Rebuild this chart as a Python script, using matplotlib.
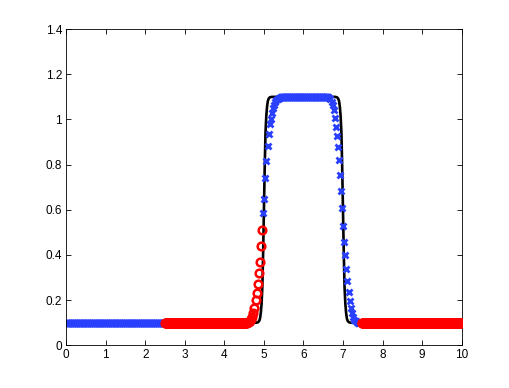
import numpy as np
import matplotlib
matplotlib.use('Agg')
import matplotlib.pyplot as plt

plt.rcParams['font.family'] = ['Liberation Sans', 'DejaVu Sans']

# levels
base = 0.1
top = 1.1
dx = 0.01

# reference (black) curve
line_x = [0.0, 4.80, 4.85, 4.88, 4.90, 4.92, 4.94, 4.96, 4.98, 5.00, 5.02, 5.04,
          5.06, 5.08, 5.10, 5.12, 5.15, 5.20,
          6.80, 6.85, 6.88, 6.90, 6.92, 6.94, 6.96, 6.98, 7.00, 7.02, 7.04,
          7.06, 7.08, 7.10, 7.12, 7.15, 7.20, 10.0]
line_y = [0.1, 0.1, 0.102, 0.108, 0.118, 0.142, 0.184, 0.258, 0.41, 0.60, 0.79, 0.942,
          1.016, 1.058, 1.082, 1.092, 1.098, 1.1,
          1.1, 1.098, 1.092, 1.082, 1.058, 1.016, 0.942, 0.79, 0.60, 0.41, 0.258,
          0.184, 0.142, 0.118, 0.108, 0.102, 0.1, 0.1]

# red circles, rising edge
red_rise_x = [4.564, 4.592, 4.620, 4.648, 4.676, 4.704, 4.732, 4.760, 4.788,
              4.816, 4.844, 4.872, 4.900, 4.928, 4.956]
red_rise_y = [0.101, 0.102, 0.104, 0.108, 0.115, 0.126, 0.142, 0.166, 0.199,
              0.232, 0.272, 0.319, 0.370, 0.439, 0.510]

# blue crosses, rising edge and plateau shoulder
blue_rise_x = [4.980, 5.006, 5.030, 5.057, 5.092, 5.125, 5.158, 5.176, 5.204,
               5.232, 5.260, 5.288, 5.316, 5.344, 5.372, 5.400, 5.428]
blue_rise_y = [0.585, 0.650, 0.741, 0.818, 0.881, 0.935, 0.978, 1.003, 1.030,
               1.050, 1.065, 1.076, 1.084, 1.090, 1.094, 1.097, 1.099]

# blue crosses, falling edge
blue_fall_x = [6.628, 6.656, 6.684, 6.712, 6.740, 6.769, 6.794, 6.819, 6.846,
               6.875, 6.905, 6.930, 6.955, 6.978, 7.004, 7.029, 7.054, 7.085,
               7.112, 7.140, 7.168, 7.198, 7.226, 7.257, 7.290, 7.322, 7.352,
               7.382, 7.412]
blue_fall_y = [1.098, 1.095, 1.089, 1.078, 1.062, 1.040, 1.006, 0.966, 0.926,
               0.876, 0.821, 0.754, 0.684, 0.608, 0.529, 0.459, 0.399, 0.339,
               0.284, 0.236, 0.196, 0.166, 0.144, 0.124, 0.112, 0.106, 0.103,
               0.101, 0.100]

# plateau grids
blue_left_x = np.arange(0.0, 2.49, dx)
red_left_x = np.arange(2.50, 4.56, dx)
blue_top_x = np.arange(5.44, 6.62, dx)
red_right_x = np.arange(7.48, 10.001, dx)

blue_x = np.concatenate([blue_left_x, blue_rise_x, blue_top_x, blue_fall_x])
blue_y = np.concatenate([np.full(len(blue_left_x), base), blue_rise_y,
                         np.full(len(blue_top_x), top), blue_fall_y])
red_x = np.concatenate([red_left_x, red_rise_x, red_right_x])
red_y = np.concatenate([np.full(len(red_left_x), base), red_rise_y,
                        np.full(len(red_right_x), base)])

fig = plt.figure(figsize=(5.1, 3.88), dpi=100)
fig.patch.set_facecolor('white')
ax = fig.add_axes([0.13, 0.11, 0.775, 0.815])

ax.plot(line_x, line_y, '-', color='black', lw=1.9, zorder=1)
ax.plot(blue_x, blue_y, 'x', color='#2a40ff', ms=4.2, mew=2, ls='none',
        snap=False, zorder=2)
ax.plot(red_x, red_y, 'o', mfc='none', mec='#ff0000', ms=5.5, mew=1.8, ls='none',
        snap=False, zorder=3)

ax.set_xlim(0, 10)
ax.set_ylim(0, 1.4)
ax.set_xticks(range(0, 11))
ax.set_yticks([0, 0.2, 0.4, 0.6, 0.8, 1.0, 1.2, 1.4])
ax.set_yticklabels(['0', '0.2', '0.4', '0.6', '0.8', '1', '1.2', '1.4'])
ax.tick_params(direction='in', length=3.5, width=0.6, labelsize=8.5,
               top=True, right=True, pad=3)
for s in ax.spines.values():
    s.set_linewidth(0.6)

fig.savefig('out.png', dpi=100)
